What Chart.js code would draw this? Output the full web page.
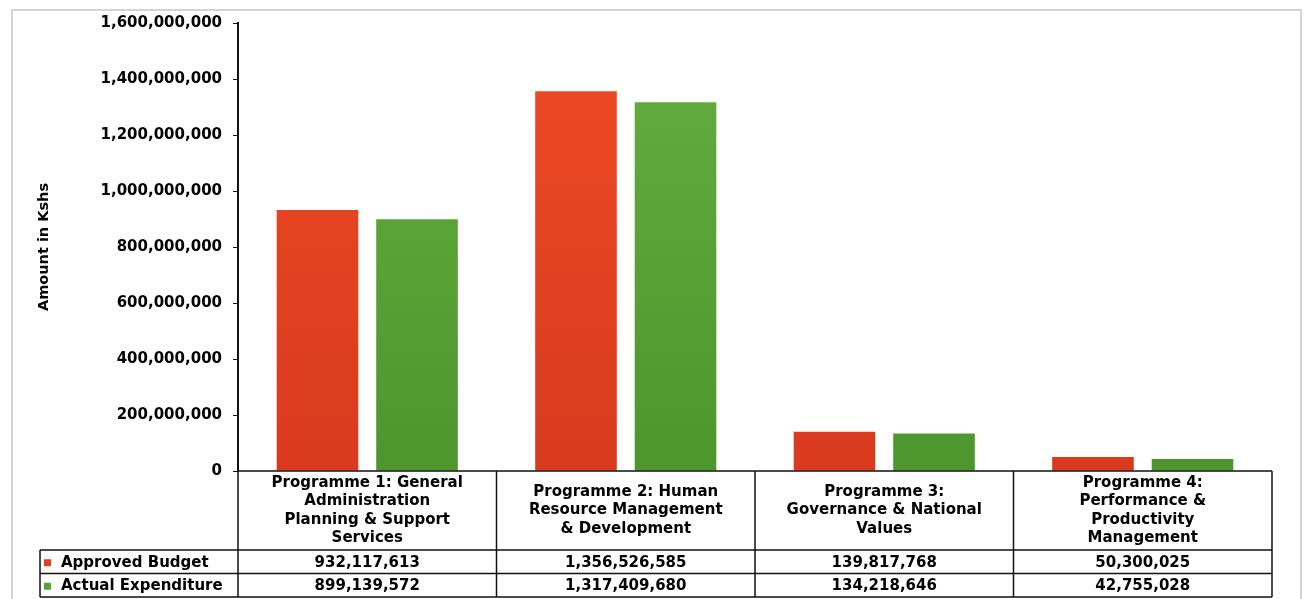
<!DOCTYPE html>
<html>
<head>
<meta charset="utf-8">
<script src="https://cdn.jsdelivr.net/npm/chart.js@4/dist/chart.umd.min.js"></script>
<style>
  html, body { margin: 0; padding: 0; background: #fff; }
  #wrap { width: 1304px; height: 599px; position: relative; }
</style>
</head>
<body>
<div id="wrap"><canvas id="myChart" width="1304" height="599"></canvas></div>
<script>
// chart data
const categories = [
    ['Programme 1: General', 'Administration', 'Planning & Support', 'Services'],
    ['Programme 2: Human', 'Resource Management', '& Development'],
    ['Programme 3:', 'Governance & National', 'Values'],
    ['Programme 4:', 'Performance &', 'Productivity', 'Management']
];
const seriesNames = ['Approved Budget', 'Actual Expenditure'];
const approvedBudget = [932117613, 1356526585, 139817768, 50300025];
const actualExpenditure = [899139572, 1317409680, 134218646, 42755028];
const yTicks = { min: 0, max: 1600000000, step: 200000000 };

const FONT = 'DejaVu Sans';
const fmt = v => v.toLocaleString('en-US');

function barGradient(top, bottom) {
    return function (context) {
        const chart = context.chart;
        const area = chart.chartArea;
        if (!area) return top;
        const g = chart.ctx.createLinearGradient(0, area.top, 0, area.bottom);
        g.addColorStop(0, top);
        g.addColorStop(1, bottom);
        return g;
    };
}
const seriesColors = ['#E5401E', '#58A236'];

// draws the data table under the plot
const dataTable = {
    id: 'dataTable',
    afterDraw(chart) {
        const ctx = chart.ctx;
        const area = chart.chartArea;
        const n = categories.length;
        const colW = (area.right - area.left) / n;
        const headerH = 79;
        const rowH = 23.5;
        const legendLeft = 40;
        const rowsTop = area.bottom + headerH;
        const tableBottom = rowsTop + rowH * 2;

        ctx.save();
        ctx.strokeStyle = '#111';
        ctx.lineWidth = 1.5;
        ctx.beginPath();
        ctx.moveTo(area.left, area.bottom);
        ctx.lineTo(area.right, area.bottom);
        for (let i = 0; i <= n; i++) {
            const x = area.left + colW * i;
            ctx.moveTo(x, area.bottom);
            ctx.lineTo(x, tableBottom);
        }
        ctx.moveTo(legendLeft, rowsTop);
        ctx.lineTo(area.right, rowsTop);
        ctx.moveTo(legendLeft, rowsTop + rowH);
        ctx.lineTo(area.right, rowsTop + rowH);
        ctx.moveTo(legendLeft, tableBottom);
        ctx.lineTo(area.right, tableBottom);
        ctx.moveTo(legendLeft, rowsTop);
        ctx.lineTo(legendLeft, tableBottom);
        ctx.stroke();

        ctx.fillStyle = '#000';
        ctx.font = 'bold 15px "' + FONT + '"';
        ctx.textAlign = 'center';
        ctx.textBaseline = 'middle';
        const lineH = 18.5;
        categories.forEach((lines, i) => {
            const cx = chart.scales.x.getPixelForValue(i);
            const cy = area.bottom + headerH / 2;
            const y0 = cy - (lines.length - 1) * lineH / 2;
            lines.forEach((t, j) => ctx.fillText(t, cx, y0 + j * lineH));
        });

        const rows = [approvedBudget, actualExpenditure];
        rows.forEach((vals, r) => {
            const cy = rowsTop + rowH * r + rowH / 2 + 1;
            ctx.textAlign = 'center';
            vals.forEach((v, i) => {
                ctx.fillText(fmt(v), chart.scales.x.getPixelForValue(i), cy);
            });
            ctx.fillStyle = seriesColors[r];
            ctx.fillRect(legendLeft + 4, cy - 3.5, 7, 7);
            ctx.fillStyle = '#000';
            ctx.textAlign = 'left';
            ctx.fillText(seriesNames[r], legendLeft + 21, cy);
        });

        // faint outer frame of the scanned chart
        ctx.strokeStyle = '#d4d4d4';
        ctx.lineWidth = 2;
        ctx.strokeRect(12, 10, 1289, 600);
        ctx.restore();
    }
};

const myChartRef = document.getElementById('myChart').getContext('2d');
new Chart(myChartRef, {
    type: 'bar',
    data: {
        labels: categories.map(c => c.join(' ')),
        datasets: [
            {
                label: seriesNames[0],
                data: approvedBudget,
                backgroundColor: barGradient('#EE4B25', '#D93A1E')
            },
            {
                label: seriesNames[1],
                data: actualExpenditure,
                backgroundColor: barGradient('#66AE3F', '#4C962D')
            }
        ]
    },
    options: {
        responsive: false,
        animation: false,
        categoryPercentage: 0.77,
        barPercentage: 0.82,
        layout: { padding: { left: 0, top: 23, right: 32, bottom: 128 } },
        plugins: {
            legend: { display: false },
            tooltip: { enabled: false }
        },
        scales: {
            x: { display: false },
            y: {
                min: yTicks.min,
                max: yTicks.max,
                afterFit(scale) { scale.width = 238; },
                border: { color: '#111', width: 2 },
                grid: { drawOnChartArea: false, drawTicks: true, tickLength: 5, color: '#111' },
                ticks: {
                    stepSize: yTicks.step,
                    padding: 11,
                    color: '#000',
                    font: { family: FONT, size: 15, weight: 'bold' },
                    callback: v => fmt(v)
                },
                title: {
                    display: true,
                    text: 'Amount in Kshs',
                    color: '#000',
                    padding: { top: 36, bottom: 0 },
                    font: { family: FONT, size: 14.5, weight: 'bold' }
                }
            }
        }
    },
    plugins: [dataTable]
});
</script>
</body>
</html>
